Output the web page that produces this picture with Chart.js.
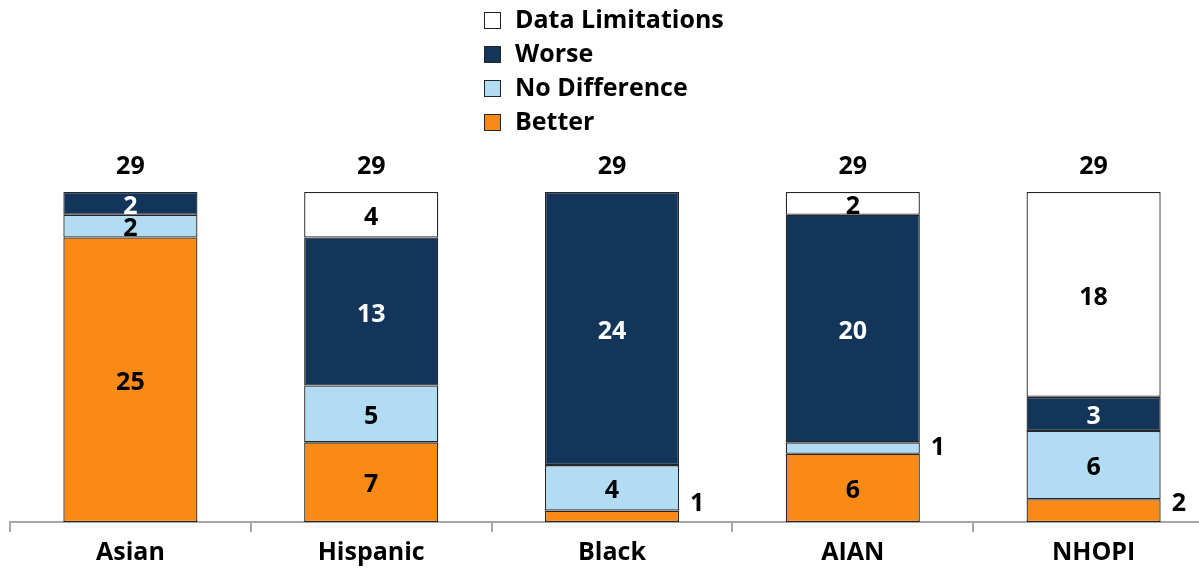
<!DOCTYPE html>
<html>
<head>
<meta charset="utf-8">
<script src="https://cdn.jsdelivr.net/npm/chart.js@4.4.1/dist/chart.umd.min.js"></script>
<style>
  html, body { margin: 0; padding: 0; background: #fff; overflow: hidden; }
  #wrap { position: relative; width: 1214px; height: 570px; }
</style>
</head>
<body>
<div id="wrap"><canvas id="chart"></canvas></div>
<script>
// Chart data
const categories = ["Asian", "Hispanic", "Black", "AIAN", "NHOPI"];
const better = [25, 7, 1, 6, 2];
const noDifference = [2, 5, 4, 1, 6];
const worse = [2, 13, 24, 20, 3];
const dataLimitations = [0, 4, 0, 2, 18];

// labels drawn to the right of the bar: [datasetIndex, categoryIndex]
const outsideLabels = [[0, 2], [1, 3], [0, 4]];

const FONT = "'Open Sans', 'DejaVu Sans', sans-serif";

const datasets = [
  { label: "Better", data: better, backgroundColor: "#FA8A16", textColor: "#000" },
  { label: "No Difference", data: noDifference, backgroundColor: "#B1DCF3", textColor: "#000" },
  { label: "Worse", data: worse, backgroundColor: "#13355A", textColor: "#fff" },
  { label: "Data Limitations", data: dataLimitations, backgroundColor: "#FFFFFF", textColor: "#000" },
].map((d) => ({
  ...d,
  borderColor: "#262626",
  borderWidth: 1.3,
  borderSkipped: false,
  barPercentage: 0.557,
  categoryPercentage: 1,
}));

// value labels, totals and legend
const labelPlugin = {
  id: "labels",
  afterDatasetsDraw(chart) {
    const ctx = chart.ctx;
    ctx.save();
    ctx.font = "bold 25px " + FONT;
    ctx.textBaseline = "middle";
    chart.data.datasets.forEach((ds, di) => {
      const meta = chart.getDatasetMeta(di);
      meta.data.forEach((bar, i) => {
        const v = ds.data[i];
        if (!v) return;
        const center = (bar.y + bar.base) / 2;
        const outside = outsideLabels.some((p) => p[0] === di && p[1] === i);
        if (outside) {
          ctx.fillStyle = "#000";
          ctx.textAlign = "left";
          ctx.fillText(String(v), bar.x + bar.width / 2 + 11, Math.min(center, chart.chartArea.bottom - 18));
        } else {
          ctx.fillStyle = ds.textColor;
          ctx.textAlign = "center";
          ctx.fillText(String(v), bar.x, center + 3);
        }
      });
    });

    // totals
    const y = chart.scales.y;
    ctx.fillStyle = "#000";
    ctx.textAlign = "center";
    categories.forEach((c, i) => {
      const total = better[i] + noDifference[i] + worse[i] + dataLimitations[i];
      const x = chart.scales.x.getPixelForValue(i);
      ctx.fillText(String(total), x, y.getPixelForValue(total) - 25);
    });

    // legend (reversed order, stacked rows)
    ctx.font = "bold 25px " + FONT;
    ctx.textAlign = "left";
    const rows = chart.data.datasets.slice().reverse();
    rows.forEach((ds, r) => {
      const cy = 20 + r * 34;
      ctx.fillStyle = ds.backgroundColor;
      ctx.fillRect(484, cy - 8, 17, 17);
      ctx.strokeStyle = "#262626";
      ctx.lineWidth = 1;
      ctx.strokeRect(484.5, cy - 7.5, 16, 16);
      ctx.fillStyle = "#000";
      ctx.fillText(ds.label, 515, cy + 1);
    });
    ctx.restore();
  },
};

new Chart(document.getElementById("chart"), {
  type: "bar",
  data: { labels: categories, datasets: datasets },
  options: {
    responsive: true,
    maintainAspectRatio: false,
    animation: false,
    layout: { padding: { top: 192, left: 10, right: 0, bottom: 0 } },
    plugins: { legend: { display: false }, tooltip: { enabled: false } },
    scales: {
      x: {
        stacked: true,
        afterFit: (s) => { s.height = 48; },
        grid: {
          offset: true,
          drawOnChartArea: false,
          tickLength: 10,
          color: "#a6a6a6",
          lineWidth: 2,
        },
        border: { color: "#a6a6a6", width: 2 },
        ticks: {
          color: "#000",
          padding: 6,
          font: { family: FONT, size: 25, weight: "bold" },
        },
      },
      y: {
        stacked: true,
        display: false,
        min: 0,
        max: 29,
      },
    },
  },
  plugins: [labelPlugin],
});
</script>
</body>
</html>
